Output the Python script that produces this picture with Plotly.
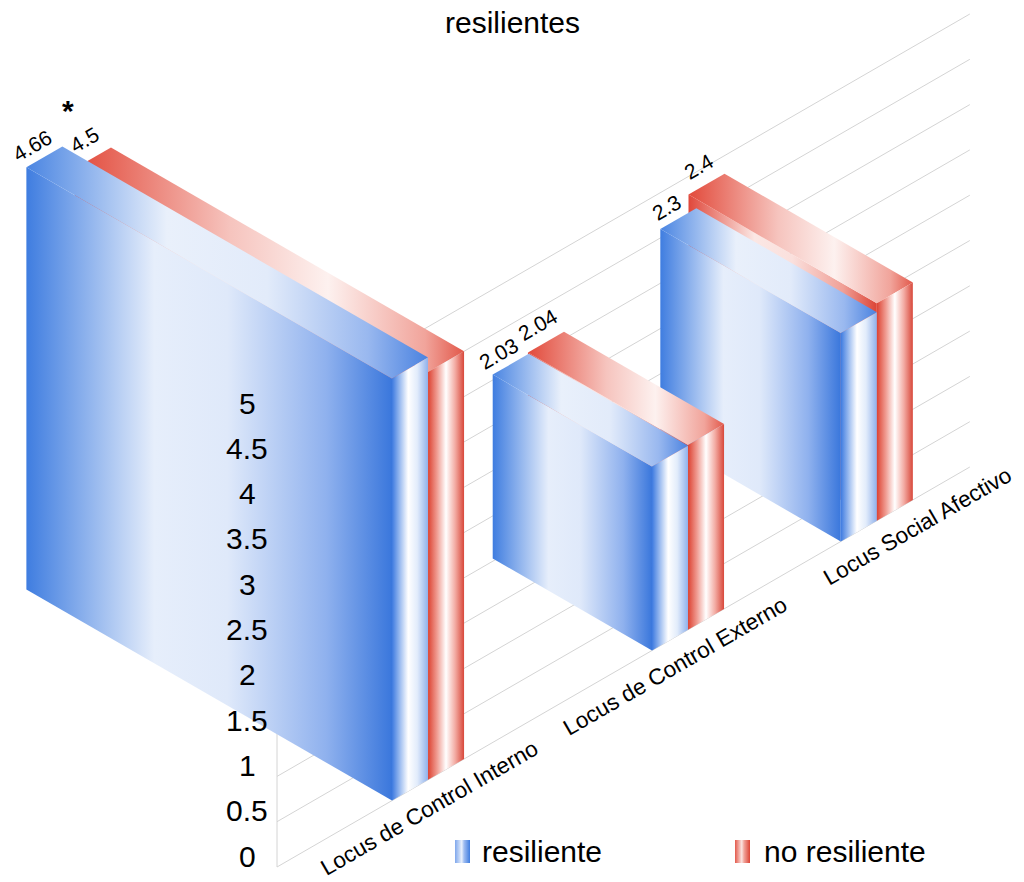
import math
import plotly.graph_objects as go

# ---- data -------------------------------------------------------------
categories = ["Locus de Control Interno", "Locus de Control Externo", "Locus Social Afectivo"]
series_names = ["resiliente", "no resiliente"]
resiliente = [4.66, 2.03, 2.3]
no_resiliente = [4.5, 2.04, 2.4]
significance = ["*", "", ""]
tick_values = [0, 0.5, 1, 1.5, 2, 2.5, 3, 3.5, 4, 4.5, 5]
tick_labels = ["0", "0.5", "1", "1.5", "2", "2.5", "3", "3.5", "4", "4.5", "5"]
title_text = "resilientes"

# ---- oblique projection of the 3-D scene onto the page ------------------
W, H = 1024, 882
ORIGIN = (277.0, 867.0)        # bottom-left corner of the back wall
UNIT = 90.6                     # pixels per value unit (height and depth)
C30, S30 = math.cos(math.radians(30)), math.sin(math.radians(30))
BAR_W = 41.6                    # bar thickness along the category axis
BAR_START = [132.8, 433.0, 651.0]
LABEL_SLOT = [160.0, 444.0, 724.0]
WALL_LEN = 800.0


def proj(b, a, v):
    """b: distance along category axis (px), a: depth (value units), v: height (value units)."""
    x = ORIGIN[0] + b * C30 - a * UNIT * C30
    y = ORIGIN[1] - b * S30 - a * UNIT * S30 - v * UNIT
    return x, y


FONT = "Liberation Sans, Arial, sans-serif"
INK = "#000000"

styles = {
    "resiliente": {
        "side": [[0, "#3f7de0"], [0.35, "#e6eefb"], [0.55, "#dfe9fa"], [0.82, "#8fb1ee"], [1, "#3a77dc"]],
        "top": [[0, "#4a85e2"], [0.35, "#e9f0fb"], [0.6, "#e2ebfa"], [0.85, "#99b8ef"], [1, "#4a82e0"]],
        "end": [[0, "#3d7ae0"], [0.25, "#a9c5f2"], [0.45, "#ffffff"], [0.7, "#e2ecfb"], [1, "#90b1eb"]],
        "icon": [[0, "#7fa7ec"], [0.45, "#e8f0fc"], [0.6, "#9fbdf1"], [1, "#3f7de0"]],
        "label_offset": (-12, -11),
    },
    "no resiliente": {
        "side": [[0, "#e0473a"], [0.35, "#fbe7e4"], [0.55, "#fae0dd"], [0.82, "#f0a097"], [1, "#dc4436"]],
        "top": [[0, "#e24a3b"], [0.4, "#f6c4be"], [0.65, "#fdf1ef"], [0.9, "#f1a49b"], [1, "#e2584a"]],
        "end": [[0, "#dc4232"], [0.25, "#f09c92"], [0.5, "#ffffff"], [0.75, "#f3aca4"], [1, "#d8483b"]],
        "icon": [[0, "#e3594b"], [0.45, "#fbe4e1"], [0.6, "#f1a49b"], [1, "#dc4436"]],
        "label_offset": (-8, -18),
    },
}

fig = go.Figure()


def face(points, scale):
    xs = [p[0] for p in points] + [points[0][0]]
    ys = [p[1] for p in points] + [points[0][1]]
    fig.add_trace(go.Scatter(
        x=xs, y=ys, mode="none", fill="toself",
        fillgradient=dict(type="horizontal", colorscale=scale),
        hoverinfo="skip", showlegend=False,
    ))


# back wall grid lines
gx, gy = [], []
for v in tick_values:
    x0, y0 = proj(0, 0, v)
    x1, y1 = proj(WALL_LEN, 0, v)
    gx += [x0, x1, None]
    gy += [y0, y1, None]
x0, y0 = proj(0, 0, 0)
x1, y1 = proj(0, 0, tick_values[-1])
gx += [x0, x1, None]
gy += [y0, y1, None]
fig.add_trace(go.Scatter(x=gx, y=gy, mode="lines", line=dict(color="#d4d4d4", width=1),
                         hoverinfo="skip", showlegend=False))

# bars, drawn from the far category to the near one
values = {"resiliente": resiliente, "no resiliente": no_resiliente}
annotations = []
for i in reversed(range(len(categories))):
    for j in reversed(range(len(series_names))):
        name = series_names[j]
        h = values[name][i]
        b0 = BAR_START[i] + j * BAR_W
        b1 = b0 + BAR_W
        st = styles[name]
        face([proj(b0, 0, 0), proj(b0, h, 0), proj(b0, h, h), proj(b0, 0, h)], st["side"])
        face([proj(b0, 0, h), proj(b1, 0, h), proj(b1, h, h), proj(b0, h, h)], st["top"])
        face([proj(b0, 0, 0), proj(b1, 0, 0), proj(b1, 0, h), proj(b0, 0, h)], st["end"])
        lx, ly = proj((b0 + b1) / 2, h, h)
        dx, dy = st["label_offset"]
        annotations.append(dict(x=lx + dx, y=ly + dy, text=f"{h:g}", textangle=-30,
                                showarrow=False, font=dict(family=FONT, size=21, color=INK)))
        if j == 0 and significance[i]:
            annotations.append(dict(x=lx + 24, y=ly - 46, text=f"<b>{significance[i]}</b>",
                                    showarrow=False, font=dict(family=FONT, size=30, color=INK)))

# value axis labels
for v, t in zip(tick_values, tick_labels):
    x, y = proj(0, 0, v)
    annotations.append(dict(x=x - 30, y=y - 11, text=t, showarrow=False,
                            font=dict(family=FONT, size=30, color=INK)))

# category labels along the floor edge
for i, c in enumerate(categories):
    x, y = proj(LABEL_SLOT[i], 0, 0)
    annotations.append(dict(x=x + 13, y=y + 21, text=c, textangle=-30, showarrow=False,
                            font=dict(family=FONT, size=22.5, color=INK)))

# legend
legend_pos = [(455, 480), (735, 762)]
for name, (ix, tx) in zip(series_names, legend_pos):
    face([(ix, 840), (ix + 15, 840), (ix + 15, 863), (ix, 863)], styles[name]["icon"])
    annotations.append(dict(x=tx, y=851, text=name, xanchor="left", showarrow=False,
                            font=dict(family=FONT, size=30, color=INK)))

# title
annotations.append(dict(x=W / 2, y=22, text=title_text, showarrow=False,
                        font=dict(family=FONT, size=30, color=INK)))

fig.update_layout(
    width=W, height=H, autosize=False,
    margin=dict(l=0, r=0, t=0, b=0),
    paper_bgcolor="white", plot_bgcolor="white",
    xaxis=dict(range=[0, W], visible=False, fixedrange=True),
    yaxis=dict(range=[H, 0], visible=False, fixedrange=True),
    annotations=annotations,
    showlegend=False,
)

fig.write_html("out.html")
